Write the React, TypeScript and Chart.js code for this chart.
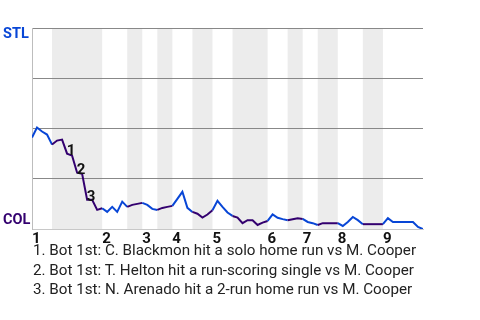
import React, { useEffect, useRef } from 'react';
import { Chart, registerables } from 'chart.js';

Chart.register(...registerables);

// STL win probability (%) after each plate appearance (event index 0..78)
const winProb = [
  45.5, 50.5, 48.5, 47, 42, 44, 44.5, 37.5, 36.5, 28,
  27.5, 14.5, 14.5, 9.5, 10.3, 8.5, 11, 8.5, 13.6, 11,
  12, 12.5, 13, 12, 10, 9.5, 10.5, 11, 11.5, 15,
  18.5, 10.5, 8.5, 7.6, 5.7, 7.2, 9.3, 14, 11, 8.2,
  6.5, 5.7, 2.9, 4.4, 4.4, 2, 3.2, 4, 7.3, 5.6,
  4.9, 4.4, 4.9, 5.4, 5, 3.5, 2.9, 2, 2.9, 2.9,
  2.9, 2.9, 1.5, 3.5, 6, 4.4, 2.4, 2.4, 2.4, 2.4,
  2.4, 5.4, 3.5, 3.5, 3.5, 3.5, 3.5, 1, 0,
];

const inningLabels = ['1', '2', '3', '4', '5', '6', '7', '8', '9'];
const inningStarts = [0, 14, 22, 28, 36, 47, 54, 61, 70];
// bottom halves (COL batting) as [start, end] event indices
const bottomHalfSpans: [number, number][] = [
  [4, 14], [19, 22], [25, 28], [32, 36], [40, 47], [51, 54], [57, 61], [66, 70],
];
const annotationEvents = [7, 9, 11];
const annotationLabels = ['1', '2', '3'];
const notes = [
  '1. Bot 1st: C. Blackmon hit a solo home run vs M. Cooper',
  '2. Bot 1st: T. Helton hit a run-scoring single vs M. Cooper',
  '3. Bot 1st: N. Arenado hit a 2-run home run vs M. Cooper',
];
const teamTop = 'STL';
const teamBottom = 'COL';

const STL_BLUE = '#0846d6';
const COL_PURPLE = '#33006f';
const FONT = 'Roboto, "Noto Sans", sans-serif';

const isBottomEvent = (i: number) => bottomHalfSpans.some(([a, b]) => i > a && i <= b);

export default function App() {
  const ref = useRef<HTMLCanvasElement | null>(null);

  useEffect(() => {
    if (!ref.current) return;
    const bandsPlugin = {
      id: 'bands',
      beforeDraw(chart: any) {
        const { ctx, chartArea } = chart;
        const xs = chart.scales.x;
        ctx.save();
        ctx.fillStyle = '#ececec';
        bottomHalfSpans.forEach(([a, b]) => {
          const x0 = xs.getPixelForValue(a);
          const x1 = xs.getPixelForValue(b);
          ctx.fillRect(x0, chartArea.top, x1 - x0, chartArea.bottom - chartArea.top);
        });
        ctx.restore();
      },
    };
    const labelsPlugin = {
      id: 'labels',
      afterDraw(chart: any) {
        const { ctx, chartArea } = chart;
        const xs = chart.scales.x;
        const ys = chart.scales.y;
        ctx.save();
        ctx.font = `bold 14.5px ${FONT}`;
        ctx.textAlign = 'left';
        ctx.textBaseline = 'middle';
        ctx.fillStyle = STL_BLUE;
        ctx.fillText(teamTop, 3, chartArea.top + 6);
        ctx.fillStyle = COL_PURPLE;
        ctx.fillText(teamBottom, 3, chartArea.bottom - 9);
        ctx.fillStyle = '#111';
        ctx.textAlign = 'center';
        ctx.font = `bold 15px ${FONT}`;
        annotationEvents.forEach((ev, k) => {
          const px = xs.getPixelForValue(ev) + 4;
          const py = ys.getPixelForValue(winProb[ev]) - 2.5;
          ctx.fillText(annotationLabels[k], px, py);
        });
        ctx.restore();
      },
    };

    const chart = new Chart(ref.current, {
      type: 'line',
      data: {
        datasets: [
          {
            data: winProb.map((v, i) => ({ x: i, y: v })),
            borderWidth: 2,
            pointRadius: 0,
            tension: 0,
            borderColor: STL_BLUE,
            segment: {
              borderColor: (c: any) => (isBottomEvent(c.p1DataIndex) ? COL_PURPLE : STL_BLUE),
            },
          },
        ],
      },
      options: {
        animation: false,
        responsive: false,
        maintainAspectRatio: false,
        layout: { padding: { left: 32, top: 28, right: 57, bottom: 0 } },
        plugins: { legend: { display: false }, tooltip: { enabled: false } },
        scales: {
          x: {
            type: 'linear',
            min: 0,
            max: winProb.length - 1,
            grid: { display: false, drawTicks: false },
            border: { display: true, color: '#c8c8c8' },
            afterBuildTicks: (s: any) => {
              s.ticks = inningStarts.map((v) => ({ value: v }));
            },
            ticks: {
              autoSkip: false,
              maxRotation: 0,
              align: 'start',
              padding: 1,
              color: '#111',
              font: { family: FONT, weight: 'bold', size: 15 },
              callback: (v: any) => {
                const idx = inningStarts.indexOf(Number(v));
                return idx >= 0 ? inningLabels[idx] : '';
              },
            },
            afterFit: (s: any) => {
              s.height = 91;
            },
          },
          y: {
            min: 0,
            max: 100,
            afterBuildTicks: (s: any) => {
              s.ticks = [0, 25, 50, 75, 100].map((v) => ({ value: v }));
            },
            ticks: { display: false },
            grid: {
              drawTicks: false,
              color: (c: any) => (c.tick && c.tick.value === 0 ? 'rgba(0,0,0,0)' : '#888888'),
            },
            border: { display: true, color: '#bdbdbd' },
            afterFit: (s: any) => {
              s.width = 0;
            },
          },
        },
      },
      plugins: [bandsPlugin, labelsPlugin],
    } as any);
    return () => chart.destroy();
  }, []);

  return (
    <div style={{ position: 'absolute', left: 0, top: 0, width: 480, height: 320, background: '#fff' }}>
      <canvas ref={ref} width={480} height={320} style={{ display: 'block', width: 480, height: 320 }} />
      <div
        style={{
          position: 'absolute',
          left: 33,
          top: 241,
          fontFamily: FONT,
          fontSize: 15.2,
          lineHeight: '19.5px',
          color: '#222',
          whiteSpace: 'nowrap',
        }}
      >
        {notes.map((n) => (
          <div key={n}>{n}</div>
        ))}
      </div>
    </div>
  );
}
